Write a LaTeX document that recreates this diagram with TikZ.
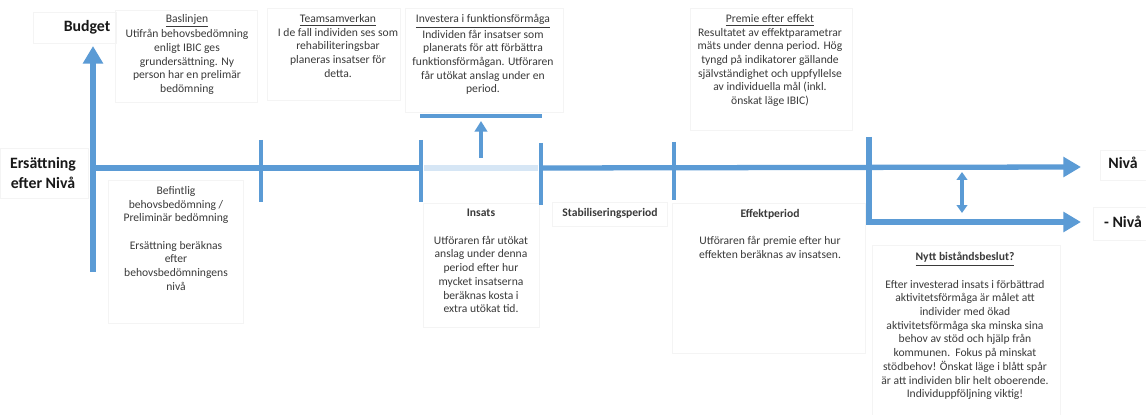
\documentclass[tikz,border=0pt]{standalone}
\usepackage{fontspec}
\setmainfont{Carlito}
\usetikzlibrary{arrows.meta}
\definecolor{axisblue}{HTML}{5B9BD5}
\definecolor{paleblue}{HTML}{D6E6F5}
\definecolor{framegray}{HTML}{F4F4F4}
\definecolor{bodytext}{HTML}{3A3A3A}
\begin{document}
\begin{tikzpicture}[x=0.02cm, y=-0.02cm,
  axisline/.style={draw=axisblue, line width=3pt},
  tickline/.style={draw=axisblue, line width=2.2pt},
  bigtip/.style={-{Triangle[length=10pt,width=11pt]}},
  smalltip/.style={-{Triangle[length=6pt,width=7pt]}},
  bothtips/.style={{Triangle[length=4.5pt,width=6pt]}-{Triangle[length=4.5pt,width=6pt]}},
  frame/.style={draw=framegray, line width=0.5pt},
  body/.style={font=\fontsize{6.6}{7.8}\selectfont, text=bodytext, align=center, inner sep=0pt, anchor=north},
  heading/.style={font=\fontsize{9}{11.3}\selectfont\bfseries, text=black!90, align=center, inner sep=0pt}]

\useasboundingbox (0,0) rectangle (1146,415);
\fill[white] (0,0) rectangle (1146,415);

% faint text frames
\draw[frame] (33,12) rectangle (116,43);
\draw[frame] (0,148) rectangle (88,198);
\draw[frame] (115,10) rectangle (257,102);
\draw[frame] (267,8) rectangle (400,100);
\draw[frame] (405,8) rectangle (563,112);
\draw[frame] (690,8) rectangle (852,130);
\draw[frame] (108,180) rectangle (243,323);
\draw[frame] (423,203) rectangle (539,327);
\draw[frame] (552,202) rectangle (667,226);
\draw[frame] (672,203) rectangle (865,353);
\draw[frame] (872,245) rectangle (1060,420);
\draw[frame] (1100,150) rectangle (1150,180);
\draw[frame] (1093,207) rectangle (1150,240);

% axis labels
\node[heading] (budget) at (87,27) {Budget};
\node[heading] (ersattning) at (43,173) {Ersättning\\efter Nivå};
\node[heading] (niva) at (1123,163) {Nivå};
\node[heading] (minusniva) at (1123,222) {- Nivå};

% upper descriptions
\node[body] (baslinjen) at (187,14) {\underline{Baslinjen}\\Utifrån behovsbedömning\\enligt IBIC ges\\grundersättning. Ny\\person har en prelimär\\bedömning};
\node[body] (team) at (338,14) {\underline{Teamsamverkan}\\I de fall individen ses som\\rehabiliteringsbar\\planeras insatser för\\detta.};
\node[body] (investera) at (483,14) {\underline{Investera i funktionsförmåga}\\Individen får insatser som\\planerats för att förbättra\\funktionsförmågan. Utföraren\\får utökat anslag under en\\period.};
\node[body] (premie) at (770,14) {\underline{Premie efter effekt}\\Resultatet av effektparametrar\\mäts under denna period. Hög\\tyngd på indikatorer gällande\\självständighet och uppfyllelse\\av individuella mål (inkl.\\önskat läge IBIC)};

% lower descriptions
\node[body] (befintlig) at (176,186) {Befintlig\\behovsbedömning /\\Preliminär bedömning\\[7.8pt]Ersättning beräknas\\efter\\behovsbedömningens\\nivå};
\node[body] (insats) at (481,209) {\textbf{Insats}\\[7.8pt]Utföraren får utökat\\anslag under denna\\period efter hur\\mycket insatserna\\beräknas kosta i\\extra utökat tid.};
\node[body] (stab) at (610,208) {\textbf{Stabiliseringsperiod}};
\node[body] (effekt) at (770,209) {\textbf{Effektperiod}\\[7.8pt]Utföraren får premie efter hur\\effekten beräknas av insatsen.};
\node[body] (nytt) at (965,252) {\textbf{\underline{Nytt biståndsbeslut?}}\\[7.8pt]Efter investerad insats i förbättrad\\aktivitetsförmåga är målet att\\individer med ökad\\aktivitetsförmåga ska minska sina\\behov av stöd och hjälp från\\kommunen.\ \ Fokus på minskat\\stödbehov! Önskat läge i blått spår\\är att individen blir helt oboerende.\\Individuppföljning viktig!};

% timeline coordinates
\coordinate (axisbottom) at (93,272);
\coordinate (axistop) at (93,46);
\coordinate (origin) at (93,168);
\coordinate (invstart) at (421,168);
\coordinate (invend) at (541,168);
\coordinate (levelend) at (1081,167);
\coordinate (splittop) at (869,137);
\coordinate (splitcorner) at (869,222);
\coordinate (lowerend) at (1081,222);

% investment segment (paler) and its raised level
\draw[draw=paleblue, line width=3.2pt] (424,168) -- (538,168);
\draw[axisline, line width=2.3pt] (420,116) coordinate (raisedleft) -- (542,116) coordinate (raisedright);
\draw[draw=axisblue, line width=2pt, smalltip] (481,158) -- (481,121);

% axes
\draw[axisline, bigtip] (axisbottom) -- (axistop);
\draw[axisline] (origin) -- (invstart);
\draw[axisline, bigtip] (invend) -- (levelend);
\draw[axisline, bigtip] (splittop) -- (splitcorner) -- (lowerend);

% period ticks
\draw[tickline] (261,140) -- (261,202);
\draw[tickline] (421,140) -- (421,202);
\draw[tickline] (541,143) -- (541,205);
\draw[tickline] (674,142) -- (674,200);

% level change
\draw[draw=axisblue, line width=1.8pt, bothtips] (962,172) -- (962,213);
\end{tikzpicture}
\end{document}
